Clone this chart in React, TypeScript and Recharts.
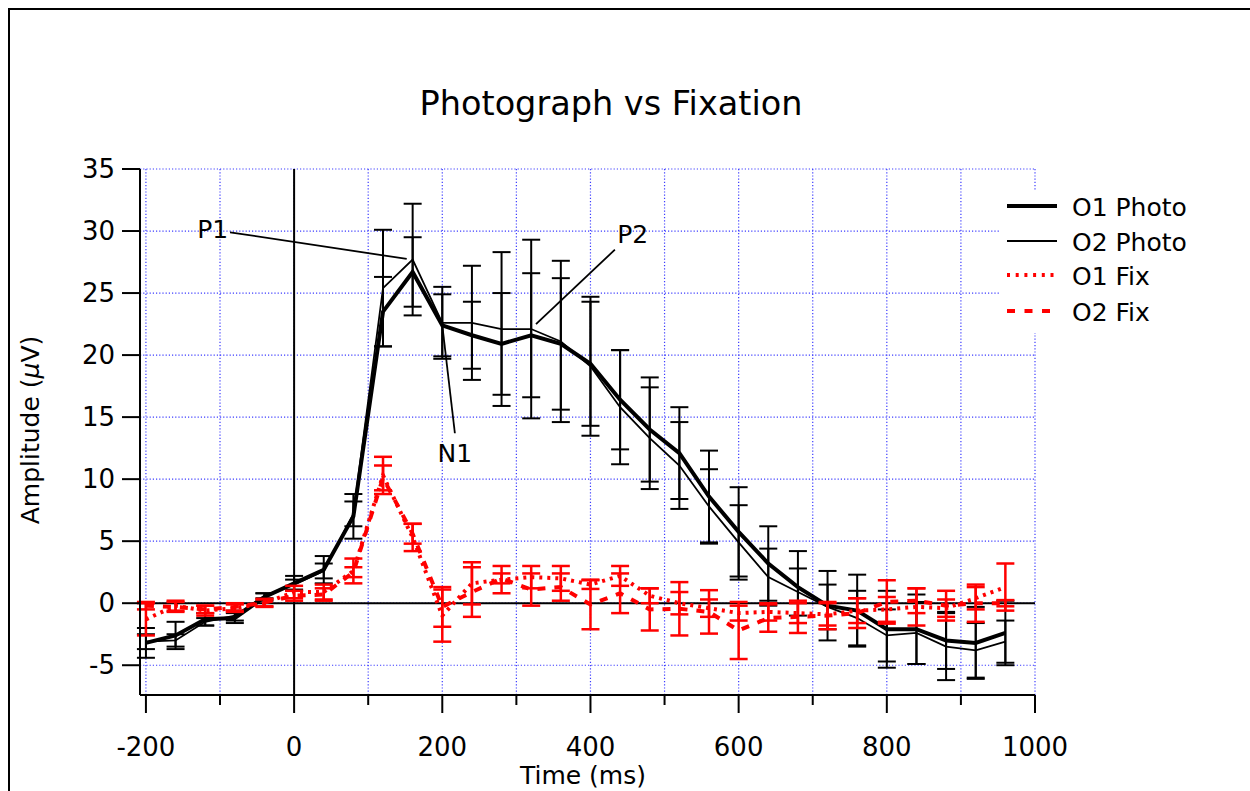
import React from "react";
import {
  CartesianGrid,
  ErrorBar,
  Label,
  Line,
  LineChart,
  ReferenceDot,
  ReferenceLine,
  XAxis,
  YAxis,
} from "recharts";

const FONT = "'DejaVu Sans', Verdana, sans-serif";
const GRID = "#3c3cff";

// time points (ms)
const times = [
  -200, -160, -120, -80, -40, 0, 40, 80, 120, 160, 200, 240, 280, 320, 360,
  400, 440, 480, 520, 560, 600, 640, 680, 720, 760, 800, 840, 880, 920, 960,
];

const o1Photo = [
  -3.2, -2.6, -1.3, -1.2, 0.5, 1.6, 2.7, 7.0, 23.5, 26.7, 22.4, 21.6, 20.9, 21.6, 20.9,
  19.3, 16.4, 14.0, 12.1, 8.6, 5.75, 3.2, 1.3, -0.2, -0.6, -2.1, -2.1, -3.0, -3.2, -2.4,
];
const o1PhotoErr = [
  1.2, 1.1, 0.5, 0.4, 0.3, 0.6, 1.1, 1.8, 2.8, 2.8, 2.5, 2.7, 4.1, 5.0, 5.3,
  5.0, 4.0, 4.2, 3.7, 3.7, 3.6, 3.0, 2.9, 2.8, 2.9, 3.1, 2.8, 2.3, 2.9, 2.6,
];
const o2Photo = [
  -3.1, -3.0, -1.5, -1.0, 0.6, 1.5, 2.6, 7.2, 25.4, 27.7, 22.6, 22.6, 22.1, 22.1, 21.1,
  19.1, 15.8, 13.3, 11.1, 7.8, 4.9, 2.1, 0.9, -0.3, -1.2, -2.6, -2.4, -3.5, -3.8, -3.1,
];
const o2PhotoErr = [
  0.6, 0.5, 0.3, 0.4, 0.2, 0.4, 0.6, 1.0, 4.7, 4.5, 2.9, 4.6, 6.2, 7.2, 6.5,
  5.6, 4.6, 4.1, 3.5, 3.0, 3.0, 2.3, 1.9, 1.8, 2.2, 2.1, 2.5, 2.7, 2.2, 1.7,
];
const o1Fix = [
  -1.3, -0.2, -0.6, -0.4, 0.0, 0.9, 0.9, 2.6, 10.3, 5.3, -1.0, 1.6, 1.9, 2.1, 2.0,
  1.5, 2.2, 0.6, 0.0, -0.4, -0.8, -0.7, -0.8, -0.9, -0.6, -0.5, -0.3, -0.4, 0.4, 1.3,
];
const o1FixErr = [
  1.3, 0.4, 0.4, 0.3, 0.3, 0.5, 0.6, 1.0, 1.5, 1.1, 2.1, 1.7, 1.1, 0.9, 1.0,
  0.35, 0.8, 0.6, 0.9, 0.7, 0.6, 0.7, 0.8, 0.9, 1.0, 1.0, 1.5, 0.7, 0.9, 1.9,
];
const o2Fix = [
  -0.2, -0.3, -0.5, -0.3, 0.05, 0.6, 0.7, 2.5, 10.1, 5.6, -0.3, 0.9, 2.0, 1.1, 1.3,
  -0.1, 0.8, -0.5, -0.45, -0.7, -2.2, -1.2, -1.1, -1.0, -0.8, 0.1, 0.2, -0.2, 0.0, 0.0,
];
const o2FixErr = [
  0.3, 0.4, 0.3, 0.3, 0.3, 0.4, 0.5, 0.4, 1.0, 0.8, 1.6, 2.0, 0.4, 1.3, 1.1,
  2.0, 1.6, 1.7, 2.15, 1.75, 2.3, 1.1, 1.3, 1.1, 1.2, 1.75, 1.0, 1.2, 1.5, 0.25,
];

const xTicks = [-200, -100, 0, 100, 200, 300, 400, 500, 600, 700, 800, 900, 1000];
const yTicks = [-5, 0, 5, 10, 15, 20, 25, 30, 35];

// peak annotations: label anchor + leader line (data coords)
const annotations = [
  { text: "P1", tx: -89, ty: 30.1, anchor: "end", from: { x: -86.5, y: 29.9 }, to: { x: 152, y: 27.75 } },
  { text: "P2", tx: 436, ty: 29.7, anchor: "start", from: { x: 433, y: 28.5 }, to: { x: 326.5, y: 22.5 } },
  { text: "N1", tx: 217, ty: 12.1, anchor: "middle", from: { x: 200, y: 22.4 }, to: { x: 217, y: 13.7 } },
];

const legendItems = [
  { name: "O1 Photo", color: "#000", width: 4, dash: undefined },
  { name: "O2 Photo", color: "#000", width: 2, dash: undefined },
  { name: "O1 Fix", color: "#ff0000", width: 4, dash: "3 5.7" },
  { name: "O2 Fix", color: "#ff0000", width: 4, dash: "8 9.5" },
];

const data = times.map((t, i) => ({
  t,
  o1Photo: o1Photo[i],
  o1PhotoErr: o1PhotoErr[i],
  o2Photo: o2Photo[i],
  o2PhotoErr: o2PhotoErr[i],
  o1Fix: o1Fix[i],
  o1FixErr: o1FixErr[i],
  o2Fix: o2Fix[i],
  o2FixErr: o2FixErr[i],
}));

function XTick({ x, y, payload }: any) {
  const major = payload.value % 200 === 0;
  return (
    <g>
      <line x1={x} x2={x} y1={y} y2={y + (major ? 18 : 10)} stroke="#000" strokeWidth={2} />
      {major && (
        <text x={x} y={y + 61} textAnchor="middle" fontSize={26} fontFamily={FONT} fill="#000">
          {payload.value}
        </text>
      )}
    </g>
  );
}

function YTick({ x, y, payload }: any) {
  return (
    <g>
      <line x1={x - 18} x2={x} y1={y} y2={y} stroke="#000" strokeWidth={2} />
      <text x={x - 25} y={y} textAnchor="end" dominantBaseline="central" fontSize={26} fontFamily={FONT} fill="#000">
        {payload.value}
      </text>
    </g>
  );
}

function Legend() {
  return (
    <div style={{ position: "absolute", left: 1000, top: 190, width: 205, height: 143, background: "#fff" }}>
      <svg width={205} height={143}>
        {legendItems.map((l, i) => {
          const y = [16, 51, 85, 121][i];
          return (
            <g key={l.name}>
              <line x1={7} x2={57} y1={y} y2={y} stroke={l.color} strokeWidth={l.width} strokeDasharray={l.dash} />
              <text x={72} y={y + 1} dominantBaseline="central" fontSize={25} fontFamily={FONT} fill="#000">
                {l.name}
              </text>
            </g>
          );
        })}
      </svg>
    </div>
  );
}

export default function App() {
  return (
    <div style={{ position: "fixed", left: 0, top: 0, width: 1250, height: 791, overflow: "hidden", background: "#fff" }}>
      <div style={{ position: "absolute", left: 8, top: 8, width: 2, height: 783, background: "#000" }} />
      <div style={{ position: "absolute", left: 8, top: 8, width: 1242, height: 2, background: "#000" }} />
      <div style={{ position: "absolute", left: 0, top: 0 }}>
        <LineChart
          width={1250}
          height={791}
          data={data}
          margin={{ top: 169, right: 215, bottom: 36, left: 80 }}
        >
          <text x={611} y={115} textAnchor="middle" fontSize={33.5} fontFamily={FONT} fill="#000">
            Photograph vs Fixation
          </text>
          <CartesianGrid stroke={GRID} strokeDasharray="1.2 2" strokeWidth={1.2} />
          <XAxis
            dataKey="t"
            type="number"
            domain={[-208, 1000]}
            allowDataOverflow
            ticks={xTicks}
            interval={0}
            tick={<XTick />}
            tickLine={false}
            tickSize={0}
            tickMargin={0}
            axisLine={{ stroke: "#000", strokeWidth: 2 }}
            height={60}
          >
            <Label
              content={() => (
                <text x={583} y={784} textAnchor="middle" fontSize={25} fontFamily={FONT} fill="#000">
                  Time (ms)
                </text>
              )}
            />
          </XAxis>
          <YAxis
            type="number"
            domain={[-7.4, 35]}
            allowDataOverflow
            ticks={yTicks}
            interval={0}
            tick={<YTick />}
            tickLine={false}
            tickSize={0}
            tickMargin={0}
            axisLine={{ stroke: "#000", strokeWidth: 2 }}
            width={60}
          >
            <Label
              content={() => (
                <text
                  transform="translate(30,430) rotate(-90)"
                  textAnchor="middle"
                  dominantBaseline="central"
                  fontSize={25}
                  fontFamily={FONT}
                  fill="#000"
                >
                  Amplitude (<tspan fontStyle="italic">μ</tspan>V)
                </text>
              )}
            />
          </YAxis>
          <ReferenceLine x={0} stroke="#000" strokeWidth={2} />
          <ReferenceLine y={0} stroke="#000" strokeWidth={2} />
          {annotations.map((a) => (
            <ReferenceLine key={a.text + "l"} segment={[a.from, a.to]} stroke="#000" strokeWidth={1.8} />
          ))}
          {annotations.map((a) => (
            <ReferenceDot
              key={a.text}
              x={a.tx}
              y={a.ty}
              r={0}
              shape={(p: any) => (
                <text
                  x={p.cx}
                  y={p.cy}
                  textAnchor={a.anchor}
                  dominantBaseline="central"
                  fontSize={25}
                  fontFamily={FONT}
                  fill="#000"
                >
                  {a.text}
                </text>
              )}
            />
          ))}
          <Line dataKey="o2Photo" stroke="#000" strokeWidth={1.8} dot={false} isAnimationActive={false}>
            <ErrorBar dataKey="o2PhotoErr" direction="y" width={9} stroke="#000" strokeWidth={2} isAnimationActive={false} />
          </Line>
          <Line dataKey="o1Photo" stroke="#000" strokeWidth={4} dot={false} isAnimationActive={false}>
            <ErrorBar dataKey="o1PhotoErr" direction="y" width={9} stroke="#000" strokeWidth={2} isAnimationActive={false} />
          </Line>
          <Line dataKey="o1Fix" stroke="#ff0000" strokeWidth={4} strokeDasharray="3 5" dot={false} isAnimationActive={false}>
            <ErrorBar dataKey="o1FixErr" direction="y" width={9} stroke="#ff0000" strokeWidth={2.5} isAnimationActive={false} />
          </Line>
          <Line dataKey="o2Fix" stroke="#ff0000" strokeWidth={4} strokeDasharray="8 9" dot={false} isAnimationActive={false}>
            <ErrorBar dataKey="o2FixErr" direction="y" width={9} stroke="#ff0000" strokeWidth={2.5} isAnimationActive={false} />
          </Line>
        </LineChart>
      </div>
      <Legend />
    </div>
  );
}
